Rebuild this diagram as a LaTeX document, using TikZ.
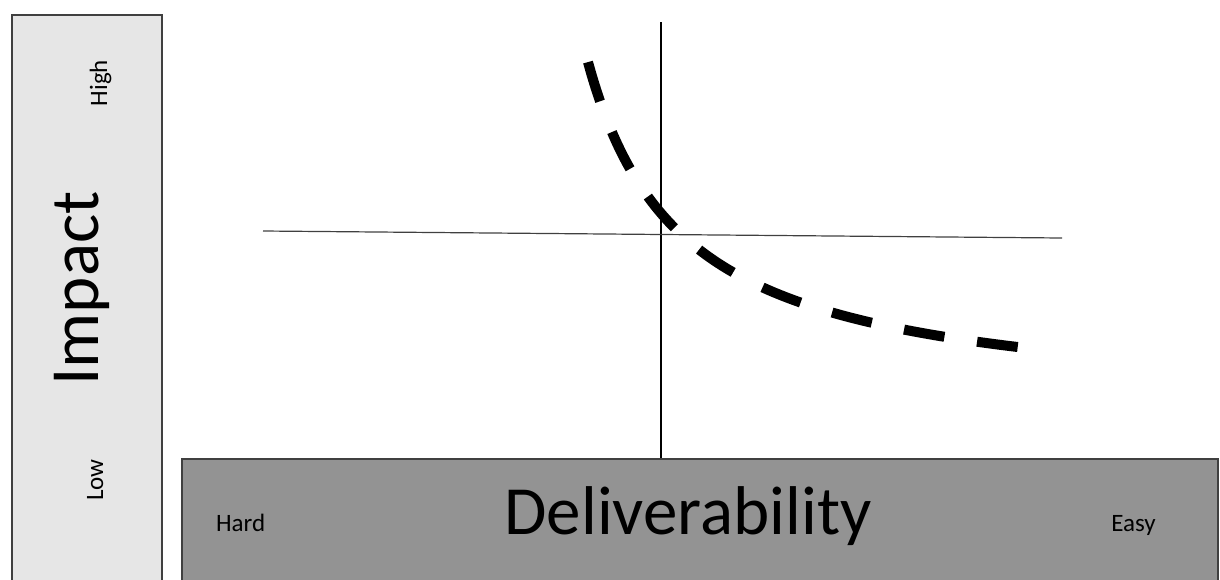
\documentclass[tikz,border=0pt]{standalone}
\usepackage{fontspec}
\setmainfont{Carlito}
\usepackage{tikz}

\definecolor{lightpanel}{HTML}{E6E6E6}
\definecolor{darkpanel}{HTML}{939393}
\definecolor{axisgray}{HTML}{404040}

\begin{document}
\begin{tikzpicture}[
  x=0.5pt, y=-0.5pt,
  panel/.style={draw=axisgray, line width=0.75pt, rectangle, inner sep=0pt, anchor=north west},
  bigtag/.style={font=\fontsize{34.5}{40}\selectfont, inner sep=0pt, anchor=base},
  smalltag/.style={font=\fontsize{12.5}{14}\selectfont, inner sep=0pt, anchor=base},
  axis/.style={draw=axisgray, line width=0.6pt},
  frontier/.style={line width=5pt, dash pattern=on 20.5pt off 16.5pt},
]
\useasboundingbox (0,0) rectangle (1220,579);
% Left panel: Impact
\node[panel, fill=lightpanel, minimum width=75pt, minimum height=288pt] (impactbox) at (11,14) {};
\node[bigtag, rotate=90] (impact) at (98,288.5) {Impact};
\node[smalltag, rotate=90] (high) at (107,83) {High};
\node[smalltag, rotate=90] (low) at (103,480) {Low};
% Bottom panel: Deliverability
\node[panel, fill=darkpanel, minimum width=518pt, minimum height=66pt] (delivbox) at (181,458) {};
\node[bigtag] (deliv) at (688,534) {Deliverability};
\node[smalltag] (hard) at (240.6,531.7) {Hard};
\node[smalltag] (easy) at (1133.5,531.7) {Easy};
% Axes
\coordinate (vtop) at (661,22);
\coordinate (hleft) at (263,231);
\coordinate (hright) at (1062,238);
\draw[axis, draw=black] (vtop) -- (vtop |- delivbox.north);
\draw[axis] (hleft) -- (hright);
% Dashed curve
\draw[frontier] plot[domain=588:1020, samples=120, smooth] (\x, {410 - 330.52/((\x-493)/100)});
\end{tikzpicture}
\end{document}
